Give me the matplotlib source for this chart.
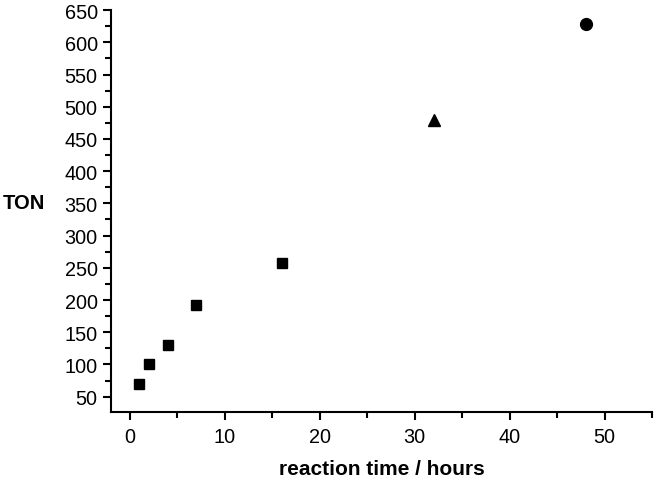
import matplotlib
matplotlib.use("Agg")
import matplotlib.pyplot as plt
from matplotlib.ticker import MultipleLocator

plt.rcParams['font.family'] = ['Liberation Sans', 'DejaVu Sans']

sq_time = [1, 2, 4, 7, 16]
sq_ton = [70, 100, 130, 192, 258]
tri_time = [32]
tri_ton = [480]
circ_time = [48]
circ_ton = [628]

fig = plt.figure(figsize=(6.56, 4.81), dpi=100)
ax = fig.add_axes([0.169, 0.141, 0.825, 0.836])

ax.plot(sq_time, sq_ton, linestyle='none', marker='s', markersize=7.2, color='black')
ax.plot(tri_time, tri_ton, linestyle='none', marker='^', markersize=8.5, color='black')
ax.plot(circ_time, circ_ton, linestyle='none', marker='o', markersize=8.5, color='black')

ax.set_xlim(-2, 55)
ax.set_ylim(26, 650)
ax.xaxis.set_major_locator(MultipleLocator(10))
ax.xaxis.set_minor_locator(MultipleLocator(5))
ax.set_yticks(list(range(50, 651, 50)))
ax.yaxis.set_minor_locator(MultipleLocator(25))

for s in ['top', 'right']:
    ax.spines[s].set_visible(False)
for s in ['left', 'bottom']:
    ax.spines[s].set_linewidth(1.5)

ax.tick_params(which='major', direction='out', length=6, width=1.5, labelsize=14.3)
ax.tick_params(axis='x', which='major', pad=5)
ax.tick_params(which='minor', direction='out', length=4, width=1.5)

ax.set_xlabel('reaction time / hours', fontsize=15, fontweight='bold', labelpad=9)
ax.set_ylabel('TON', fontsize=14.5, fontweight='bold', rotation=0, ha='right', va='center')
ax.yaxis.set_label_coords(-0.122, 0.522)

fig.savefig('out.png', dpi=100)
